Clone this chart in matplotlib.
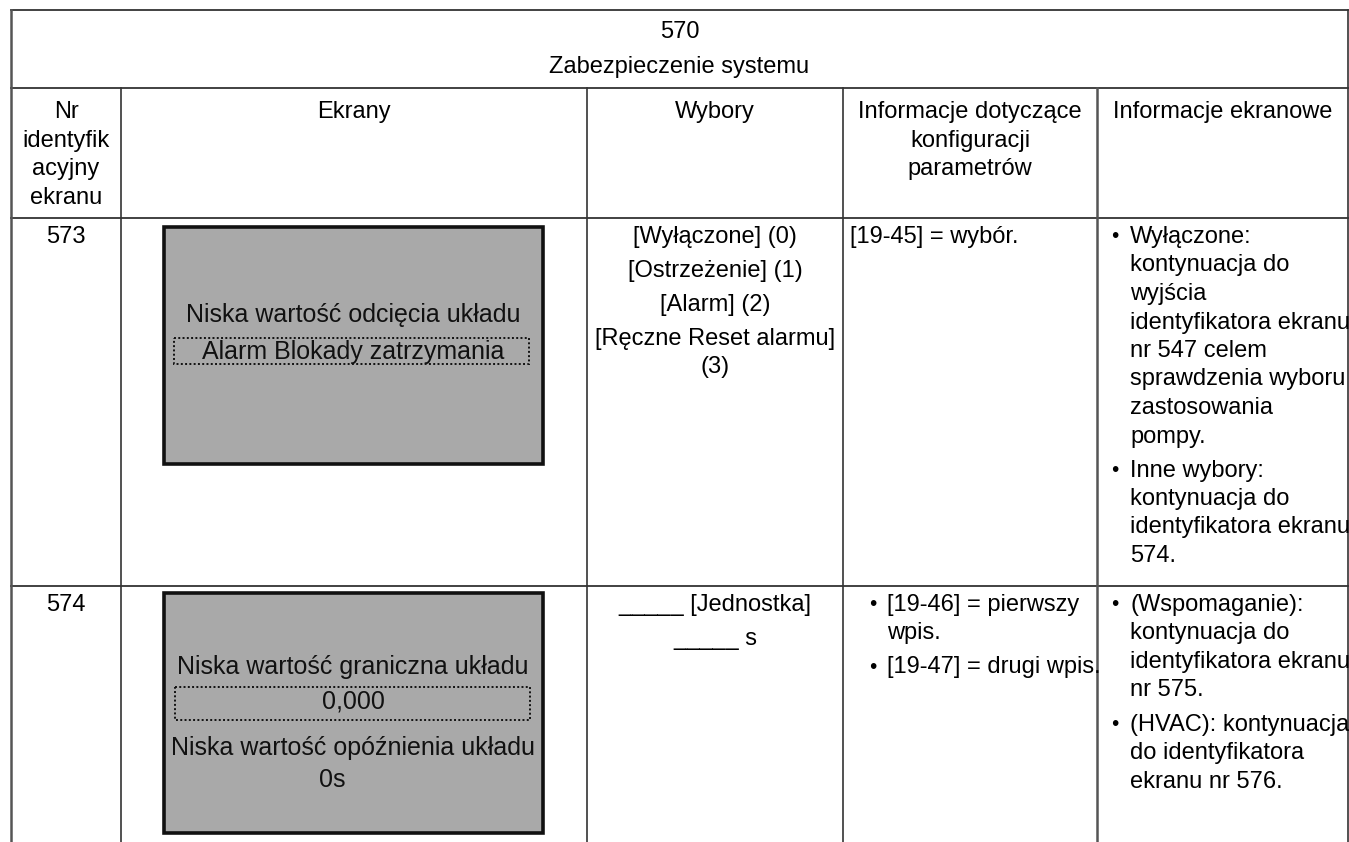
import matplotlib.pyplot as plt
from matplotlib.patches import Rectangle

plt.rcParams['font.family'] = ['Liberation Sans', 'DejaVu Sans']

# table content
title_lines = ["570", "Zabezpieczenie systemu"]
headers = [["Nr", "identyfik", "acyjny", "ekranu"],
           ["Ekrany"],
           ["Wybory"],
           ["Informacje dotyczące", "konfiguracji", "parametrów"],
           ["Informacje ekranowe"]]
screen_ids = ["573", "574"]
screens = [["Niska wartość odcięcia układu", "Alarm Blokady zatrzymania"],
           ["Niska wartość graniczna układu", "0,000",
            "Niska wartość opóźnienia układu", "0s"]]
choices = [[["[Wyłączone] (0)"], ["[Ostrzeżenie] (1)"], ["[Alarm] (2)"],
            ["[Ręczne Reset alarmu]", "(3)"]],
           [["_____ [Jednostka]"], ["_____ s"]]]
param_info = [[["[19-45] = wybór."]],
              [["[19-46] = pierwszy", "wpis."], ["[19-47] = drugi wpis."]]]
param_bullets = [False, True]
screen_info = [[["Wyłączone:", "kontynuacja do", "wyjścia", "identyfikatora ekranu",
                 "nr 547 celem", "sprawdzenia wyboru", "zastosowania", "pompy."],
                ["Inne wybory:", "kontynuacja do", "identyfikatora ekranu", "574."]],
               [["(Wspomaganie):", "kontynuacja do", "identyfikatora ekranu", "nr 575."],
                ["(HVAC): kontynuacja", "do identyfikatora", "ekranu nr 576."]]]

# layout (pixels)
W, H = 1349, 842
col_x = [11, 121, 587, 843, 1097, 1348]
top, title_bottom = 10, 88
row_tops = [218, 586]
box_y = [(227, 464), (593, 833)]
box_x = (164, 543)
screen_line_y = [[88, 125], [74, 108, 155, 187]]
screen_line_x = [[353, 353], [353, 353, 353, 332]]
hl_rect = [(174, 529, 111, 137), (175, 530, 94, 127)]
line_h = 28.5
para_gap = 5.5
fs = 17
fs_box = 18
line_col = '#333333'

fig = plt.figure(figsize=(W / 100, H / 100), dpi=100)
ax = fig.add_axes([0, 0, 1, 1])
ax.set_xlim(0, W)
ax.set_ylim(H, 0)
ax.axis('off')

# grid
for y in [top, title_bottom] + row_tops:
    ax.plot([col_x[0], col_x[-1]], [y, y], color=line_col, lw=1.3)
for i, x in enumerate(col_x):
    y0 = top if i in (0, len(col_x) - 1) else title_bottom
    lw = 1.8 if i in (0, 4) else 1.2
    c = '#555555' if i in (0, 4) else line_col
    ax.plot([x, x], [y0, H], color=c, lw=lw)

cx = (col_x[0] + col_x[-1]) / 2
ax.text(cx, 32, title_lines[0], ha='center', va='center', fontsize=fs)
ax.text(cx, 67, title_lines[1], ha='center', va='center', fontsize=fs)

for i, lines in enumerate(headers):
    xm = (col_x[i] + col_x[i + 1]) / 2
    for j, t in enumerate(lines):
        ax.text(xm, 112 + j * line_h, t, ha='center', va='center', fontsize=fs)


def paragraphs(paras, x, y, ha='left', bullet_x=None):
    for para in paras:
        for j, t in enumerate(para):
            if j == 0 and bullet_x is not None:
                ax.text(bullet_x, y, "•", ha='left', va='center', fontsize=fs - 2)
            ax.text(x, y, t, ha=ha, va='center', fontsize=fs)
            y += line_h
        y += para_gap


for r, rt in enumerate(row_tops):
    y1 = rt + 19
    ax.text((col_x[0] + col_x[1]) / 2, y1, screen_ids[r], ha='center', va='center', fontsize=fs)

    b0, b1 = box_y[r]
    ax.add_patch(Rectangle((box_x[0], b0), box_x[1] - box_x[0], b1 - b0,
                           facecolor='#a9a9a9', edgecolor='#111111', lw=2.6))
    for k, t in enumerate(screens[r]):
        ax.text(screen_line_x[r][k], b0 + screen_line_y[r][k], t,
                ha='center', va='center', fontsize=fs_box, color='#111111')
    hx0, hx1, hy0, hy1 = hl_rect[r]
    ax.add_patch(Rectangle((hx0, b0 + hy0), hx1 - hx0, hy1 - hy0, fill=False,
                           edgecolor='#111111', lw=1.4, linestyle=(0, (1, 1.2))))

    paragraphs(choices[r], (col_x[2] + col_x[3]) / 2, y1, ha='center')
    if param_bullets[r]:
        paragraphs(param_info[r], col_x[3] + 44, y1, bullet_x=col_x[3] + 26)
    else:
        paragraphs(param_info[r], col_x[3] + 7, y1)
    paragraphs(screen_info[r], col_x[4] + 33, y1, bullet_x=col_x[4] + 14)

fig.savefig('out.png', dpi=100)
